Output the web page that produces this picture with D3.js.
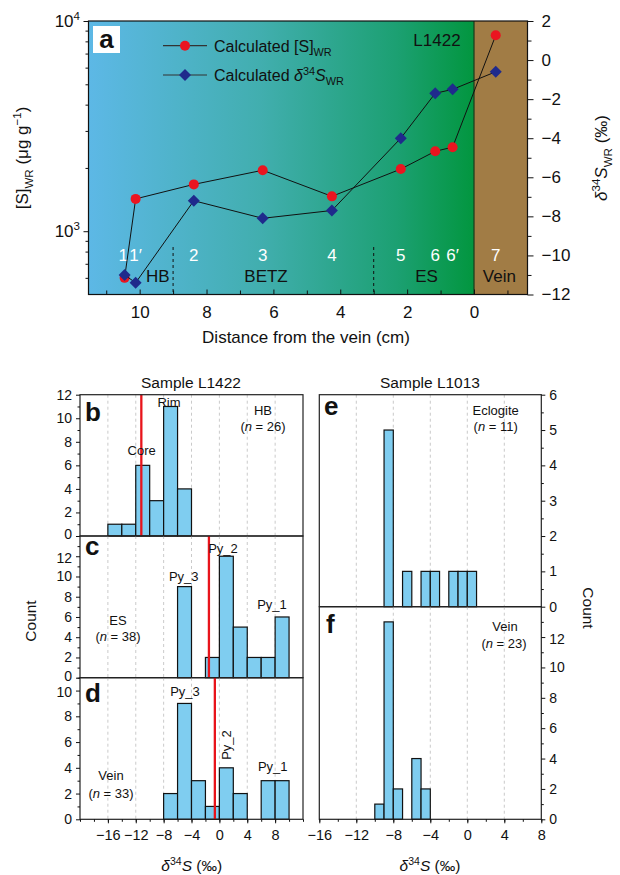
<!DOCTYPE html>
<html>
<head>
<meta charset="utf-8">
<script src="https://cdn.jsdelivr.net/npm/d3@7"></script>
<style>
  body { margin: 0; background: #fff; }
  svg { font-family: 'Liberation Sans', Arial, Helvetica, sans-serif; }
  .axis path, .axis line { stroke: #111; }
  .axis text { fill: #111; }
</style>
</head>
<body>
<div id="chart"></div>
<script>
// ---- panel a: whole-rock S profile ----
const sampleIds = ['1', '1\u2032', '2', '3', '4', '5', '6', '6\u2032', '7']
const distances = [10.45, 10.12, 8.38, 6.32, 4.25, 2.19, 1.16, 0.64, -0.65]
const sConc = [600, 1425, 1670, 1950, 1465, 1975, 2400, 2510, 8550]
const d34sWR = [-11.0, -11.4, -7.2, -8.1, -7.7, -4.0, -1.7, -1.5, -0.6]
const zoneNames = ['HB', 'BETZ', 'ES', 'Vein']
const zoneCenters = [9.46, 6.22, 1.42, -0.76]
const zoneBounds = [9, 3]

// ---- panels b-f: d34S histograms ----
const bStarts = [-16, -14, -12, -10, -8, -6]
const bCounts = [1, 1, 6, 3, 11, 4]
const cStarts = [-6, -2, 0, 2, 4, 6, 8]
const cCounts = [9, 2, 12, 5, 2, 2, 6]
const dStarts = [-8, -6, -4, -2, 0, 2, 6, 8]
const dCounts = [2, 9, 3, 1, 4, 2, 3, 3]
const eStarts = [-9, -7, -5, -4, -2, -1, 0]
const eCounts = [5, 1, 1, 1, 1, 1, 1]
const fStarts = [-10, -9, -8, -6, -5]
const fCounts = [1, 13, 2, 4, 2]
const meanB = -11.2
const meanC = -1.5
const meanD = -0.65
const xTicksHist = [-16, -12, -8, -4, 0, 4, 8]

const svg = d3.select('#chart').append('svg')
  .attr('width', 620).attr('height', 875)

// superscript / subscript helper
function rich(textSel, parts, fs) {
  let cur = 0
  parts.forEach(p => {
    const off = p.sup ? -0.4 * fs : p.sub ? 0.28 * fs : 0
    textSel.append('tspan')
      .text(p.t)
      .attr('dy', off - cur)
      .attr('font-size', (p.sup || p.sub) ? fs * 0.68 : fs)
      .attr('font-style', p.it ? 'italic' : null)
    cur = off
  })
  return textSel
}

// ================= panel a =================
const A = { left: 88.5, right: 527.5, top: 21, bottom: 294.5 }
const xA = d3.scaleLinear().domain([11.53, -1.6]).range([A.left, A.right])
const yS = d3.scaleLog().domain([500, 10000]).range([A.bottom, A.top])
const yD = d3.scaleLinear().domain([-12, 2]).range([A.bottom, A.top])

const defs = svg.append('defs')
const grad = defs.append('linearGradient').attr('id', 'zone')
  .attr('x1', '0%').attr('x2', '100%')
grad.append('stop').attr('offset', '0%').attr('stop-color', '#5db8e6')
grad.append('stop').attr('offset', '45%').attr('stop-color', '#41aeae')
grad.append('stop').attr('offset', '80%').attr('stop-color', '#1ca072')
grad.append('stop').attr('offset', '100%').attr('stop-color', '#02963f')

svg.append('rect')
  .attr('x', xA(11.53)).attr('y', A.top)
  .attr('width', xA(0) - xA(11.53)).attr('height', A.bottom - A.top)
  .attr('fill', 'url(#zone)')
svg.append('rect')
  .attr('x', xA(0)).attr('y', A.top)
  .attr('width', xA(-1.6) - xA(0)).attr('height', A.bottom - A.top)
  .attr('fill', '#a17c45')
svg.append('line')
  .attr('x1', xA(0)).attr('x2', xA(0)).attr('y1', A.top).attr('y2', A.bottom)
  .attr('stroke', '#1a3a1a').attr('stroke-width', 1.2)

// zone boundaries
svg.selectAll('.zb').data(zoneBounds).enter().append('line')
  .attr('x1', d => xA(d)).attr('x2', d => xA(d))
  .attr('y1', 247).attr('y2', A.bottom)
  .attr('stroke', '#111').attr('stroke-dasharray', '3,3')

// sample ids and zone names
svg.selectAll('.sid').data(sampleIds).enter().append('text')
  .attr('x', (d, i) => xA(distances[i]) + (i === 0 ? -1.5 : i === 1 ? 0 : 0))
  .attr('y', 261).attr('text-anchor', 'middle')
  .attr('font-size', 17).attr('fill', '#fff').text(d => d)
svg.selectAll('.zn').data(zoneNames).enter().append('text')
  .attr('x', (d, i) => xA(zoneCenters[i]))
  .attr('y', 282).attr('text-anchor', 'middle')
  .attr('font-size', 17).attr('fill', '#111').text(d => d)

// lines
const pts = distances.map((d, i) => ({ dist: d, s: sConc[i], d34: d34sWR[i] }))
svg.append('path').datum(pts)
  .attr('d', d3.line().x(d => xA(d.dist)).y(d => yS(d.s)))
  .attr('fill', 'none').attr('stroke', '#111').attr('stroke-width', 1)
svg.selectAll('.sc').data(pts).enter().append('circle')
  .attr('cx', d => xA(d.dist)).attr('cy', d => yS(d.s)).attr('r', 5)
  .attr('fill', '#ea1520')
svg.append('path').datum(pts)
  .attr('d', d3.line().x(d => xA(d.dist)).y(d => yD(d.d34)))
  .attr('fill', 'none').attr('stroke', '#111').attr('stroke-width', 1)
const diamond = d3.symbol().type(d3.symbolSquare).size(72)
svg.selectAll('.dm').data(pts).enter().append('path')
  .attr('d', diamond)
  .attr('transform', d => `translate(${xA(d.dist)},${yD(d.d34)}) rotate(45)`)
  .attr('fill', '#1f2a8c')

// frame
svg.append('rect')
  .attr('x', A.left).attr('y', A.top)
  .attr('width', A.right - A.left).attr('height', A.bottom - A.top)
  .attr('fill', 'none').attr('stroke', '#111').attr('stroke-width', 1.2)

// axes a
const minorLog = [600, 700, 800, 900, 2000, 3000, 4000, 5000, 6000, 7000, 8000, 9000]
svg.append('g').attr('class', 'axis')
  .attr('transform', `translate(${A.left},0)`)
  .call(d3.axisLeft(yS).tickValues(minorLog).tickSize(3).tickFormat(''))
  .call(g => g.select('.domain').remove())
svg.append('g').attr('class', 'axis')
  .attr('transform', `translate(${A.left},0)`)
  .call(d3.axisLeft(yS).tickValues([1000, 10000]).tickSize(5).tickFormat(''))
  .call(g => g.select('.domain').remove())
;[[1000, '3'], [10000, '4']].forEach(([v, e]) => {
  const t = svg.append('text').attr('x', 80).attr('y', yS(v) + 6)
    .attr('text-anchor', 'end').attr('fill', '#111')
  rich(t, [{ t: '10' }, { t: e, sup: true }], 17)
})

svg.append('g').attr('class', 'axis')
  .attr('transform', `translate(0,${A.bottom})`)
  .call(d3.axisBottom(xA).tickValues([11, 9, 7, 5, 3, 1, -1])
    .tickSizeInner(-4).tickSizeOuter(0).tickFormat(''))
  .call(g => g.select('.domain').remove())
svg.append('g').attr('class', 'axis')
  .attr('transform', `translate(0,${A.bottom})`)
  .call(d3.axisBottom(xA).tickValues([10, 8, 6, 4, 2, 0])
    .tickSizeInner(-5).tickSizeOuter(0).tickPadding(11).tickFormat(d3.format('d')))
  .call(g => g.select('.domain').remove())
  .call(g => g.selectAll('text').attr('font-size', 17))

svg.append('g').attr('class', 'axis')
  .attr('transform', `translate(${A.right},0)`)
  .call(d3.axisRight(yD).tickValues([-11, -9, -7, -5, -3, -1, 1])
    .tickSize(4).tickFormat(''))
  .call(g => g.select('.domain').remove())
svg.append('g').attr('class', 'axis')
  .attr('transform', `translate(${A.right},0)`)
  .call(d3.axisRight(yD).tickValues(d3.range(-12, 3, 2)).tickSize(6).tickPadding(8))
  .call(g => g.select('.domain').remove())
  .call(g => g.selectAll('text').attr('font-size', 17))

svg.append('text').attr('x', 306).attr('y', 343).attr('text-anchor', 'middle')
  .attr('font-size', 17).attr('fill', '#111').text('Distance from the vein (cm)')
rich(svg.append('text').attr('text-anchor', 'middle').attr('fill', '#111')
  .attr('transform', 'translate(28,158) rotate(-90)'),
  [{ t: '[S]' }, { t: 'WR', sub: true }, { t: ' (\u03bcg g' }, { t: '\u22121', sup: true }, { t: ')' }], 17)
rich(svg.append('text').attr('text-anchor', 'middle').attr('fill', '#111')
  .attr('transform', 'translate(607,158) rotate(-90)'),
  [{ t: '\u03b4', it: true }, { t: '34', sup: true }, { t: 'S', it: true }, { t: 'WR', sub: true }, { t: ' (\u2030)' }], 17)

// legend
svg.append('line').attr('x1', 163).attr('x2', 207).attr('y1', 45.7).attr('y2', 45.7)
  .attr('stroke', '#333').attr('stroke-width', 1.2)
svg.append('circle').attr('cx', 185).attr('cy', 45.7).attr('r', 5).attr('fill', '#ea1520')
svg.append('line').attr('x1', 163).attr('x2', 207).attr('y1', 75).attr('y2', 75)
  .attr('stroke', '#333').attr('stroke-width', 1.2)
svg.append('path').attr('d', diamond).attr('transform', 'translate(185,75) rotate(45)')
  .attr('fill', '#1f2a8c')
rich(svg.append('text').attr('x', 214).attr('y', 51.5).attr('fill', '#111'),
  [{ t: 'Calculated [S]' }, { t: 'WR', sub: true }], 16)
rich(svg.append('text').attr('x', 214).attr('y', 81).attr('fill', '#111'),
  [{ t: 'Calculated ' }, { t: '\u03b4', it: true }, { t: '34', sup: true }, { t: 'S', it: true }, { t: 'WR', sub: true }], 16)

svg.append('text').attr('x', 437).attr('y', 46).attr('text-anchor', 'middle')
  .attr('font-size', 17).attr('fill', '#111').text('L1422')
svg.append('rect').attr('x', 93).attr('y', 26).attr('width', 27).attr('height', 27).attr('fill', '#fff')
svg.append('text').attr('x', 106.5).attr('y', 48).attr('text-anchor', 'middle')
  .attr('font-size', 26).attr('font-weight', 'bold').attr('fill', '#111').text('a')

// ================= histograms =================
const xL = d3.scaleLinear().domain([-20, 12]).range([80, 303])
const xR = d3.scaleLinear().domain([-16, 8]).range([319.3, 541.3])

function histPanel(o) {
  const y = d3.scaleLinear().domain([0, o.ymax]).range([o.y0, o.y1])
  const g = svg.append('g')
  const [xa, xb] = o.x.range()
  // grid
  g.selectAll('.grid').data(xTicksHist.filter(v => o.x(v) > xa + 1 && o.x(v) < xb - 1))
    .enter().append('line')
    .attr('x1', d => o.x(d)).attr('x2', d => o.x(d))
    .attr('y1', o.y1).attr('y2', o.y0)
    .attr('stroke', '#c4c4c4').attr('stroke-width', 0.9).attr('stroke-dasharray', '3,3')
  // bars
  g.selectAll('.bar').data(o.starts).enter().append('rect')
    .attr('x', d => o.x(d))
    .attr('width', d => o.x(d + o.bw) - o.x(d))
    .attr('y', (d, i) => y(o.counts[i]))
    .attr('height', (d, i) => o.y0 - y(o.counts[i]))
    .attr('fill', '#7fcdf0').attr('stroke', '#111').attr('stroke-width', 1.2)
  if (o.mean !== undefined) {
    g.append('line').attr('x1', o.x(o.mean)).attr('x2', o.x(o.mean))
      .attr('y1', o.y1).attr('y2', o.y0)
      .attr('stroke', '#e8141b').attr('stroke-width', 2.3)
  }
  g.append('rect').attr('x', xa).attr('y', o.y1)
    .attr('width', xb - xa).attr('height', o.y0 - o.y1)
    .attr('fill', 'none').attr('stroke', '#222').attr('stroke-width', 1.2)
  // y axis
  const left = o.side === 'left'
  const ax = left ? d3.axisLeft(y) : d3.axisRight(y)
  const ax2 = left ? d3.axisLeft(y) : d3.axisRight(y)
  g.append('g').attr('class', 'axis')
    .attr('transform', `translate(${left ? xa : xb},0)`)
    .call(ax2.tickValues(o.minor).tickSize(2.5).tickFormat(''))
    .call(s => s.select('.domain').remove())
  g.append('g').attr('class', 'axis')
    .attr('transform', `translate(${left ? xa : xb},0)`)
    .call(ax.tickValues(o.major).tickSize(4).tickPadding(4).tickFormat(d3.format('d')))
    .call(s => s.select('.domain').remove())
    .call(s => s.selectAll('text').attr('font-size', 14)
      // nudge labels at shared panel borders so they do not collide
      .attr('dy', d => d === 0 && o.stacked ? '0.18em' : d === o.major[o.major.length - 1] && o.y1 > 400 ? '0.45em' : '0.32em'))
  g.append('text').attr('x', o.lx).attr('y', o.ly)
    .attr('font-size', 26).attr('font-weight', 'bold').attr('fill', '#111').text(o.letter)
  return y
}

const evens = (a, b) => d3.range(a, b + 1, 2)
const odds = (a, b) => d3.range(a, b + 1, 2)

histPanel({ x: xL, y0: 536, y1: 394.7, ymax: 12, starts: bStarts, counts: bCounts, bw: 2, stacked: true,
  mean: meanB, side: 'left', major: evens(0, 12), minor: odds(1, 11), letter: 'b', lx: 85, ly: 421 })
histPanel({ x: xL, y0: 677.7, y1: 536, ymax: 14, starts: cStarts, counts: cCounts, bw: 2, stacked: true,
  mean: meanC, side: 'left', major: evens(0, 12), minor: odds(1, 13), letter: 'c', lx: 85, ly: 555 })
histPanel({ x: xL, y0: 819.3, y1: 677.7, ymax: 11, starts: dStarts, counts: dCounts, bw: 2,
  mean: meanD, side: 'left', major: evens(0, 10), minor: odds(1, 11), letter: 'd', lx: 85, ly: 702 })
histPanel({ x: xR, y0: 606.7, y1: 394.7, ymax: 6, starts: eStarts, counts: eCounts, bw: 1,
  side: 'right', major: d3.range(0, 7), minor: d3.range(0.5, 6, 1), letter: 'e', lx: 324, ly: 415 })
histPanel({ x: xR, y0: 819.3, y1: 606.7, ymax: 14, starts: fStarts, counts: fCounts, bw: 1,
  side: 'right', major: evens(0, 12), minor: odds(1, 13), letter: 'f', lx: 326, ly: 633 })

// bottom x axes
;[[xL, d3.range(-20, 13, 2)], [xR, d3.range(-16, 9, 2)]].forEach(([sc, minor]) => {
  svg.append('g').attr('class', 'axis').attr('transform', 'translate(0,819.3)')
    .call(d3.axisBottom(sc).tickValues(minor).tickSize(2.5).tickSizeOuter(0).tickFormat(''))
    .call(s => s.select('.domain').remove())
  svg.append('g').attr('class', 'axis').attr('transform', 'translate(0,819.3)')
    .call(d3.axisBottom(sc).tickValues(xTicksHist).tickSize(4).tickSizeOuter(0).tickPadding(6)
      .tickFormat(d3.format('d')))
    .call(s => s.select('.domain').remove())
    .call(s => s.selectAll('text').attr('font-size', 14.5))
})

// annotations
function note(x, y, parts, fs, anchor) {
  return rich(svg.append('text').attr('x', x).attr('y', y)
    .attr('text-anchor', anchor || 'middle').attr('fill', '#111'), parts, fs || 13)
}
const nLabel = n => [{ t: '(' }, { t: 'n', it: true }, { t: ' = ' + n + ')' }]

note(191, 388, [{ t: 'Sample L1422' }], 15.5)
note(430, 388, [{ t: 'Sample L1013' }], 15.5)
note(141.7, 455, [{ t: 'Core' }])
note(169, 407, [{ t: 'Rim' }])
note(263, 415, [{ t: 'HB' }])
note(263, 431, nLabel(26))
note(183.7, 581, [{ t: 'Py_3' }])
note(223, 553, [{ t: 'Py_2' }])
note(272, 609, [{ t: 'Py_1' }])
note(118, 625, [{ t: 'ES' }])
note(118, 641, nLabel(38))
note(185, 696, [{ t: 'Py_3' }])
rich(svg.append('text').attr('text-anchor', 'middle').attr('fill', '#111')
  .attr('transform', 'translate(231,745) rotate(-90)'), [{ t: 'Py_2' }], 13)
note(272.7, 771, [{ t: 'Py_1' }])
note(111, 780, [{ t: 'Vein' }])
note(111, 798, nLabel(33))
note(495.7, 415, [{ t: 'Eclogite' }])
note(495.7, 431, nLabel(11))
note(505, 631, [{ t: 'Vein' }])
note(504, 648, nLabel(23))

const d34Title = [{ t: '\u03b4', it: true }, { t: '34', sup: true }, { t: 'S', it: true }, { t: ' (\u2030)' }]
note(191.7, 871, d34Title, 15.5)
note(430, 871, d34Title, 15.5)

rich(svg.append('text').attr('text-anchor', 'middle').attr('fill', '#111')
  .attr('transform', 'translate(36,621) rotate(-90)'), [{ t: 'Count' }], 15.5)
rich(svg.append('text').attr('text-anchor', 'middle').attr('fill', '#111')
  .attr('transform', 'translate(583,608) rotate(90)'), [{ t: 'Count' }], 15.5)
</script>
</body>
</html>
